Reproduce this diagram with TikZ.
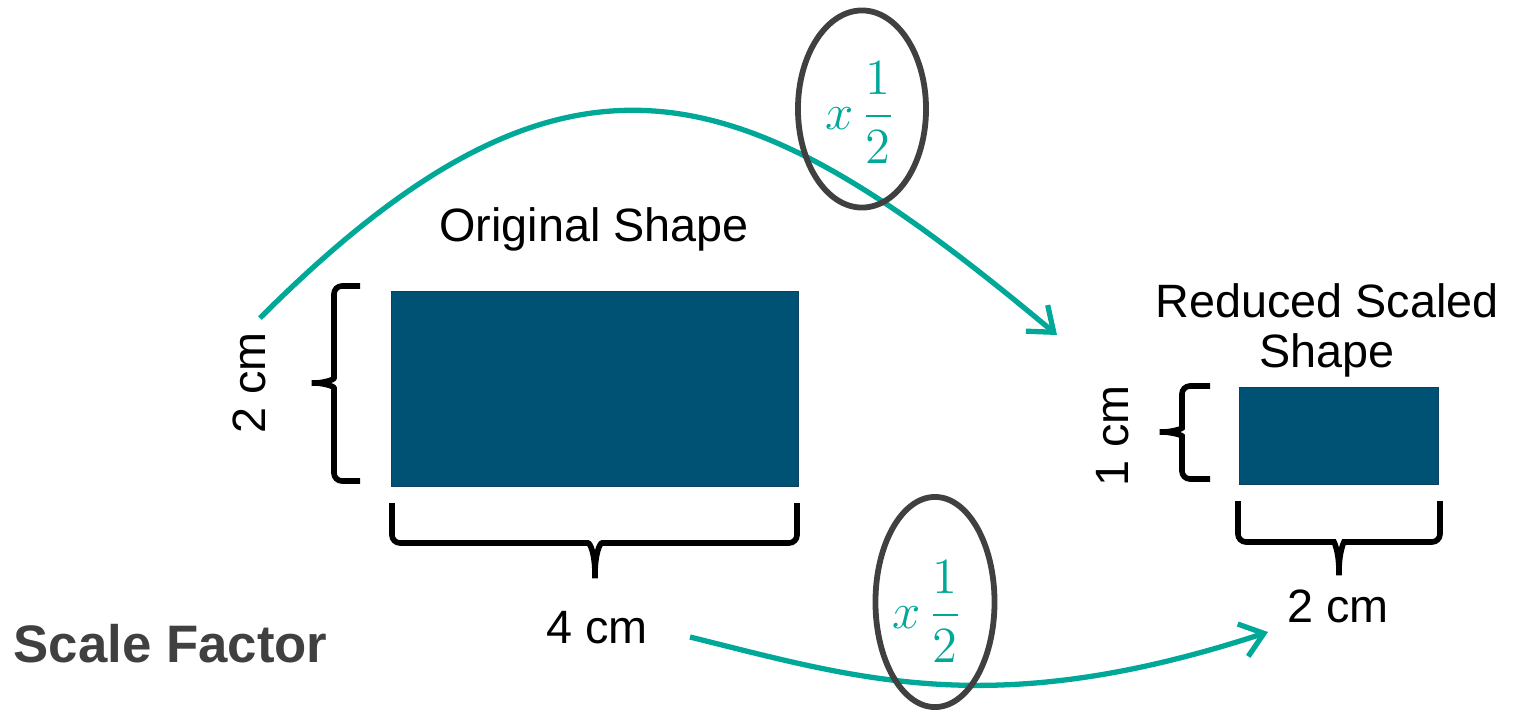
\documentclass[tikz,border=0pt]{standalone}
\usepackage[no-math]{fontspec}
\setmainfont{Liberation Sans}
\usepackage{amsmath}
\usetikzlibrary{arrows.meta,shapes.geometric}
\definecolor{shapecol}{RGB}{0,82,117}
\definecolor{edgecol}{RGB}{12,66,94}
\definecolor{arrcol}{RGB}{0,168,152}
\definecolor{ringcol}{RGB}{64,64,64}

\begin{document}
\begin{tikzpicture}[
  x=0.01cm, y=-0.01cm,
  box/.style={draw=edgecol,line width=0.3pt,fill=shapecol,inner sep=0pt,outer sep=0pt},
  lbl/.style={font=\fontsize{13.3}{14.2}\selectfont,inner sep=0pt},
  ring/.style={draw=ringcol,ellipse,line width=1.65pt,inner sep=0pt},
  fac/.style={text=arrcol,font=\fontsize{14.5}{17}\selectfont,inner sep=0pt},
  curl/.style={line width=1.6pt,rounded corners=0.8mm},
  sweep/.style={arrcol,line width=1.5pt,-{Straight Barb[length=2.2mm,width=3.4mm]}}]
\useasboundingbox (0,0) rectangle (1514,711);
% shapes
\node[box,minimum width=4.07cm,minimum height=1.95cm] (origbox) at (595,389) {};
\node[box,minimum width=1.99cm,minimum height=0.97cm] (redbox) at (1339,436) {};
\node[lbl,anchor=base] (origlbl) at (594,241) {Original Shape};
\node[lbl,align=center] (redlbl) at (1327,330) {Reduced Scaled\\Shape};
% braces
\draw[curl] (360,286) -- (334,286) -- (334,370) .. controls (334,380) and (322,383) .. (307,383)
  .. controls (322,383) and (334,386) .. (334,396) -- (334,481) -- (360,481);
\draw[curl] (392,503) -- (392,543) -- (580,543) .. controls (590,543) and (595,553) .. (595,583)
  .. controls (595,553) and (600,543) .. (610,543) -- (797,543) -- (797,503);
\draw[curl] (1210,386) -- (1182,386) -- (1182,420) .. controls (1182,429) and (1170,432) .. (1155,432)
  .. controls (1170,432) and (1182,435) .. (1182,444) -- (1182,479) -- (1210,479);
\draw[curl] (1238,501) -- (1238,542) -- (1326,542) .. controls (1334,542) and (1339,551) .. (1339,580)
  .. controls (1339,551) and (1344,542) .. (1352,542) -- (1440,542) -- (1440,501);
% measures
\node[lbl,rotate=90,anchor=base] (hgtlbl) at (265,383) {2 cm};
\node[lbl,anchor=base] (widlbl) at (597,643) {4 cm};
\node[lbl,rotate=90,anchor=base] (redhgt) at (1128,436) {1 cm};
\node[lbl,anchor=base] (redwid) at (1338,622) {2 cm};
\node[font=\bfseries\fontsize{15}{17}\selectfont,text=ringcol,anchor=base west,inner sep=0pt] (sflbl) at (13,662) {Scale Factor};
% scale arrows
\coordinate (upstart) at (260,318);
\coordinate (upend) at (1057,335);
\coordinate (lowstart) at (690,637);
\coordinate (lowend) at (1268,632);
\draw[sweep] (upstart) .. controls (574,4) and (748,77) .. (upend);
\draw[sweep] (lowstart) .. controls (860,679) and (993,722) .. (lowend);
% factors
\node[ring,minimum width=1.28cm,minimum height=1.97cm] (topring) at (862,109) {};
\node[fac] (topfac) at (860,113) {$x\,\dfrac{1}{2}$};
\node[ring,minimum width=1.19cm,minimum height=2.10cm] (lowring) at (935,602) {};
\node[fac] (lowfac) at (927,612) {$x\,\dfrac{1}{2}$};
\end{tikzpicture}
\end{document}
